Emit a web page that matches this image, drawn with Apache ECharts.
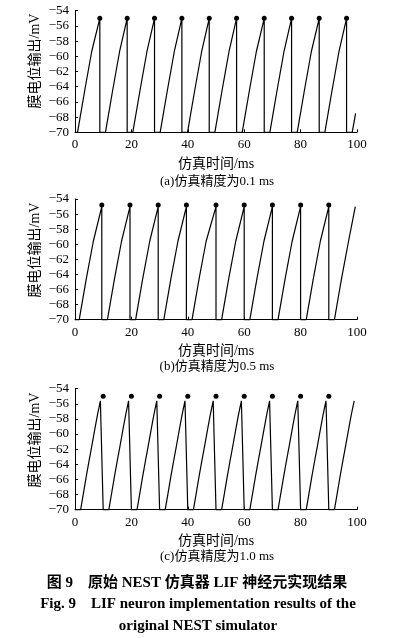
<!DOCTYPE html>
<html><head><meta charset="utf-8">
<script src="https://cdn.jsdelivr.net/npm/echarts@6/dist/echarts.min.js"></script>
<style>html,body{margin:0;padding:0;background:#fff}#c{width:393px;height:638px}</style>
</head><body><div id="c"></div>
<script>
// ---- data ----
const xTicks = [0, 20, 40, 60, 80, 100];
const yTicks = [-70, -68, -66, -64, -62, -60, -58, -56, -54];

// (a) resolution 0.1 ms : [time ms, membrane potential mV]
const traceA = [
  [0,-70],[0.9,-70],[3.4,-64.6],[5.9,-59.4],[8.8,-55],[8.8,-70],
  [10.8,-70],[13.3,-64.6],[15.8,-59.4],[18.5,-55],[18.5,-70],
  [20.5,-70],[23.0,-64.6],[25.5,-59.4],[28.2,-55],[28.2,-70],
  [30.2,-70],[32.7,-64.6],[35.2,-59.4],[37.9,-55],[37.9,-70],
  [39.9,-70],[42.4,-64.6],[44.9,-59.4],[47.6,-55],[47.6,-70],
  [49.6,-70],[52.1,-64.6],[54.6,-59.4],[57.3,-55],[57.3,-70],
  [59.3,-70],[61.8,-64.6],[64.3,-59.4],[67.1,-55],[67.1,-70],
  [69.1,-70],[71.6,-64.6],[74.1,-59.4],[76.8,-55],[76.8,-70],
  [78.8,-70],[81.3,-64.6],[83.8,-59.4],[86.6,-55],[86.6,-70],
  [88.6,-70],[91.1,-64.6],[93.6,-59.4],[96.3,-55],[96.3,-70],
  [98.3,-70],[99.5,-67.5]
];
const spikesA = [8.8, 18.5, 28.2, 37.9, 47.6, 57.3, 67.1, 76.8, 86.6, 96.3];
const spikeVA = [-55, -55, -55, -55, -55, -55, -55, -55, -55, -55];

// (b) resolution 0.5 ms
const traceB = [
  [0,-70],[1.5,-70],[4.0,-64.6],[6.5,-59.6],[9.5,-55],[9.5,-70],
  [11.5,-70],[14.0,-64.6],[16.5,-59.6],[19.5,-55],[19.5,-70],
  [21.5,-70],[24.0,-64.6],[26.5,-59.6],[29.5,-55],[29.5,-70],
  [31.5,-70],[34.0,-64.6],[36.5,-59.6],[39.5,-55],[39.5,-70],
  [41.5,-70],[44.0,-64.6],[46.5,-59.6],[50.0,-55],[50.0,-70],
  [52.0,-70],[54.5,-64.6],[57.0,-59.6],[60.0,-55],[60.0,-70],
  [62.0,-70],[64.5,-64.6],[67.0,-59.6],[70.0,-55],[70.0,-70],
  [72.0,-70],[74.5,-64.6],[77.0,-59.6],[80.0,-55],[80.0,-70],
  [82.0,-70],[84.5,-64.6],[87.0,-59.6],[90.0,-55],[90.0,-70],
  [92.0,-70],[94.5,-64.6],[97.0,-59.6],[99.4,-55]
];
const spikesB = [9.5, 19.5, 29.5, 39.5, 50, 60, 70, 80, 90];
const spikeVB = [-54.8, -54.8, -54.8, -54.8, -54.8, -54.8, -54.8, -54.8, -54.8];

// (c) resolution 1.0 ms : one value per ms, t = 0..99
const voltsC = [
  -70,-70,-70,-67.8,-65.6,-63.5,-61.5,-59.4,-57.4,-55.6,
  -70,-70,-70,-67.8,-65.6,-63.5,-61.5,-59.4,-57.4,-55.6,
  -70,-70,-70,-67.8,-65.6,-63.5,-61.5,-59.4,-57.4,-55.6,
  -70,-70,-70,-67.8,-65.6,-63.5,-61.5,-59.4,-57.4,-55.6,
  -70,-70,-70,-67.8,-65.6,-63.5,-61.5,-59.4,-57.4,-55.6,
  -70,-70,-70,-67.8,-65.6,-63.5,-61.5,-59.4,-57.4,-55.6,
  -70,-70,-70,-67.8,-65.6,-63.5,-61.5,-59.4,-57.4,-55.6,
  -70,-70,-70,-67.8,-65.6,-63.5,-61.5,-59.4,-57.4,-55.6,
  -70,-70,-70,-67.8,-65.6,-63.5,-61.5,-59.4,-57.4,-55.6,
  -70,-70,-70,-67.8,-65.6,-63.5,-61.5,-59.4,-57.4,-55.6
];
const spikesC = [10, 20, 30, 40, 50, 60, 70, 80, 90];
const spikeVC = [-55, -55, -55, -55, -55, -55, -55, -55, -55];

const xName = '仿真时间/ms';
const yName = '膜电位输出/mV';
const captions = ['(a)仿真精度为0.1 ms', '(b)仿真精度为0.5 ms', '(c)仿真精度为1.0 ms'];
const figTitleCn = '图 9    原始 NEST 仿真器 LIF 神经元实现结果';
const figTitleEn1 = 'Fig. 9    LIF neuron implementation results of the';
const figTitleEn2 = 'original NEST simulator';

// ---- chart ----
const FONT = '"Liberation Serif", "Noto Sans CJK SC", serif';
const grids = [
  {left: 75, right: 36, top: 10.7, height: 121.6},
  {left: 75, right: 36, top: 199, height: 120.7},
  {left: 75, right: 36, top: 388.7, height: 121}
];
const yNameY = [61, 250, 440];
const capY = [182, 367, 557];

function xAxis(i) {
  return {
    gridIndex: i, type: 'value', min: xTicks[0], max: xTicks[xTicks.length-1], interval: xTicks[1]-xTicks[0],
    axisLine: {lineStyle: {color: '#000', width: 1}},
    axisTick: {inside: true, length: 3, lineStyle: {color: '#000'}},
    axisLabel: {color: '#000', fontSize: 13, fontFamily: FONT, margin: 6},
    splitLine: {show: false},
    name: xName, nameLocation: 'middle', nameGap: 25,
    nameTextStyle: {color: '#000', fontSize: 14, fontFamily: FONT}
  };
}
function yAxis(i) {
  return {
    gridIndex: i, type: 'value', min: yTicks[0], max: yTicks[yTicks.length-1], interval: yTicks[1]-yTicks[0],
    axisLine: {show: true, lineStyle: {color: '#000', width: 1}},
    axisTick: {show: true, inside: true, length: 3, lineStyle: {color: '#000'}},
    axisLabel: {color: '#000', fontSize: 13, fontFamily: FONT, margin: 6,
      formatter: v => String(v).replace('-', '\u2212')},
    splitLine: {show: false}
  };
}
function lineSeries(i, data) {
  return {type: 'line', xAxisIndex: i, yAxisIndex: i, data: data, symbol: 'none',
    lineStyle: {color: '#000', width: 1.2}, animation: false, silent: true, clip: false};
}
function dotSeries(i, xs, ys) {
  return {type: 'scatter', xAxisIndex: i, yAxisIndex: i, data: xs.map((x, k) => [x, ys[k]]),
    symbol: 'circle', symbolSize: 5, itemStyle: {color: '#000', opacity: 1}, animation: false, silent: true};
}

const graphics = [];
for (let i = 0; i < 3; i++) {
  graphics.push({type: 'text', x: 35, y: yNameY[i], rotation: Math.PI/2,
    style: {text: yName, fill: '#000', font: '14px ' + FONT, textAlign: 'center', textVerticalAlign: 'middle'}});
  graphics.push({type: 'text', x: 217, y: capY[i],
    style: {text: captions[i], fill: '#000', font: '13px ' + FONT, textAlign: 'center', textVerticalAlign: 'middle'}});
}
graphics.push({type: 'text', x: 197, y: 583,
  style: {text: figTitleCn, fill: '#000', font: 'bold 15px ' + FONT, textAlign: 'center', textVerticalAlign: 'middle'}});
graphics.push({type: 'text', x: 198, y: 604,
  style: {text: figTitleEn1, fill: '#000', font: 'bold 15px ' + FONT, textAlign: 'center', textVerticalAlign: 'middle'}});
graphics.push({type: 'text', x: 198, y: 626,
  style: {text: figTitleEn2, fill: '#000', font: 'bold 15px ' + FONT, textAlign: 'center', textVerticalAlign: 'middle'}});

const chart = echarts.init(document.getElementById('c'), null, {renderer: 'canvas'});
chart.setOption({
  backgroundColor: '#fff',
  animation: false,
  grid: grids,
  xAxis: [xAxis(0), xAxis(1), xAxis(2)],
  yAxis: [yAxis(0), yAxis(1), yAxis(2)],
  series: [
    lineSeries(0, traceA), dotSeries(0, spikesA, spikeVA),
    lineSeries(1, traceB), dotSeries(1, spikesB, spikeVB),
    lineSeries(2, voltsC.map((v, t) => [t, v])), dotSeries(2, spikesC, spikeVC)
  ],
  graphic: graphics
});
</script></body></html>
